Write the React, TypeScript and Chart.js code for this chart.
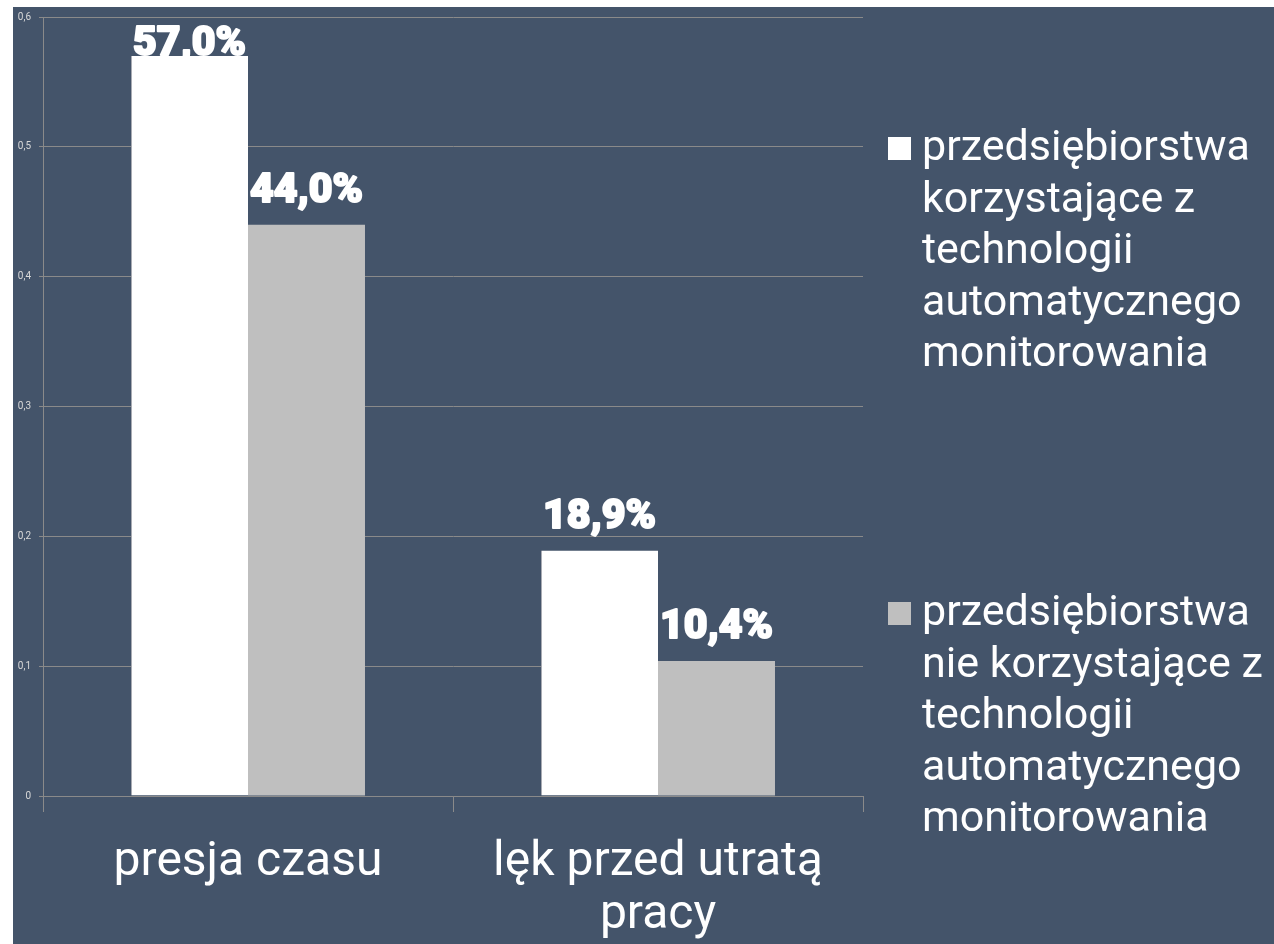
import React, { useEffect, useRef } from "react";
import { Chart, registerables } from "chart.js";

Chart.register(...registerables);

const categories: (string | string[])[] = ["presja czasu", ["lęk przed utratą", "pracy"]];
const usingValues = [0.57, 0.189];
const notUsingValues = [0.44, 0.104];
const usingLegend = ["przedsiębiorstwa", "korzystające z", "technologii", "automatycznego", "monitorowania"];
const notUsingLegend = ["przedsiębiorstwa", "nie korzystające z", "technologii", "automatycznego", "monitorowania"];
const yMin = 0;
const yMax = 0.6;
const yStep = 0.1;

const BG = "#44546A";
const GRID = "#8a8a8a";
const WHITE = "#ffffff";
const GRAY = "#bfbfbf";

const W = 1261;
const H = 937;

const valueLabels = {
  id: "valueLabels",
  beforeDatasetsDraw(chart: any) {
    const ctx = chart.ctx;
    ctx.save();
    ctx.font = "900 41px Roboto";
    ctx.fillStyle = "#ffffff";
    ctx.strokeStyle = "#ffffff";
    ctx.lineWidth = 2;
    ctx.lineJoin = "round";
    ctx.textAlign = "center";
    ctx.textBaseline = "alphabetic";
    chart.data.datasets.forEach((ds: any, di: number) => {
      chart.getDatasetMeta(di).data.forEach((bar: any, i: number) => {
        const v = ds.data[i];
        const txt = (v * 100).toFixed(1).replace(".", ",") + "%";
        const y = Math.max(bar.y - 23, chart.chartArea.top + 38);
        ctx.strokeText(txt, bar.x, y);
        ctx.fillText(txt, bar.x, y);
      });
    });
    ctx.restore();
  },
};

const customLegend = {
  id: "customLegend",
  afterDraw(chart: any) {
    const ctx = chart.ctx;
    ctx.save();
    ctx.font = "400 43px Roboto";
    ctx.textAlign = "left";
    ctx.textBaseline = "alphabetic";
    const items = [
      { lines: usingLegend, color: WHITE, base: 153 },
      { lines: notUsingLegend, color: GRAY, base: 618 },
    ];
    const markerX = 875;
    const textX = 909;
    const lh = 51.5;
    items.forEach((it) => {
      ctx.fillStyle = it.color;
      ctx.fillRect(markerX, it.base - 23, 23, 23);
      ctx.fillStyle = "#ffffff";
      it.lines.forEach((ln, k) => ctx.fillText(ln, textX, it.base + k * lh));
    });
    ctx.restore();
  },
};

export default function App() {
  const ref = useRef<HTMLCanvasElement>(null);
  useEffect(() => {
    if (!ref.current) return;
    const chart = new Chart(ref.current, {
      type: "bar",
      data: {
        labels: categories as any,
        datasets: [
          {
            label: usingLegend.join(" "),
            data: usingValues,
            backgroundColor: WHITE,
            borderColor: "#a9acb4",
            borderWidth: { left: 1, top: 0, right: 0, bottom: 0 } as any,
            categoryPercentage: 0.5707,
            barPercentage: 1,
          },
          {
            label: notUsingLegend.join(" "),
            data: notUsingValues,
            backgroundColor: GRAY,
            borderWidth: 0,
            categoryPercentage: 0.5707,
            barPercentage: 1,
          },
        ],
      },
      options: {
        responsive: false,
        animation: false,
        layout: { padding: { top: 10, right: 411, left: 0, bottom: 0 } },
        plugins: {
          legend: { display: false },
          tooltip: { enabled: false },
        },
        scales: {
          x: {
            afterFit: (s: any) => {
              s.height = H - 789;
              s.paddingLeft = 0;
              s.paddingRight = 0;
            },
            grid: {
              offset: true,
              drawOnChartArea: false,
              color: GRID,
              tickLength: 16,
            },
            border: { color: GRID },
            ticks: {
              color: "#ffffff",
              font: { family: "Roboto", size: 48, lineHeight: 1.1 },
              padding: 25,
              maxRotation: 0,
              autoSkip: false,
            },
          },
          y: {
            min: yMin,
            max: yMax,
            afterFit: (s: any) => {
              s.width = 30;
              s.paddingTop = 0;
              s.paddingBottom = 0;
            },
            grid: { color: GRID, tickLength: 4 },
            border: { color: GRID },
            ticks: {
              stepSize: yStep,
              color: "#d9d9d9",
              font: { family: "Roboto", size: 10 },
              padding: 8,
              callback: (v: any) => (v === 0 ? "0" : Number(v).toFixed(1).replace(".", ",")),
            },
          },
        },
      },
      plugins: [valueLabels, customLegend],
    });
    return () => chart.destroy();
  }, []);
  return (
    <div style={{ position: "absolute", left: 13, top: 7, width: W, height: H, background: BG }}>
      <canvas ref={ref} width={W} height={H} style={{ display: "block", width: W, height: H }} />
    </div>
  );
}
